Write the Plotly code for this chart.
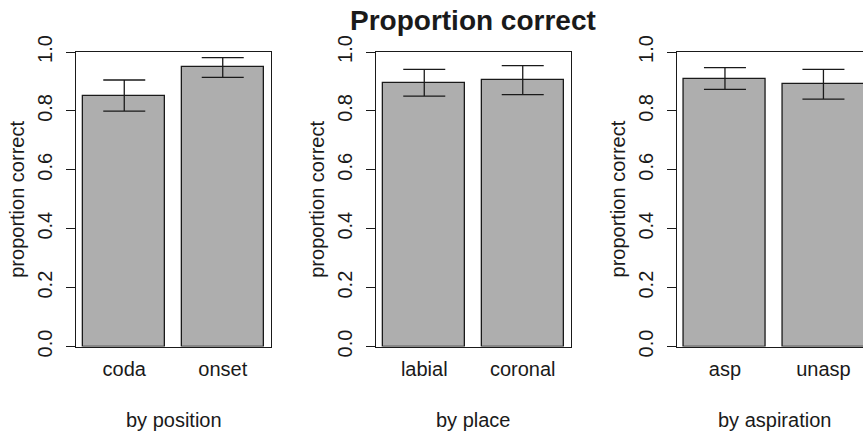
import plotly.graph_objects as go

# ---------------- data ----------------
cats_position = ["coda", "onset"]
mean_position = [0.851, 0.948]
upper_position = [0.905, 0.981]
lower_position = [0.799, 0.914]

cats_place = ["labial", "coronal"]
mean_place = [0.896, 0.905]
upper_place = [0.941, 0.954]
lower_place = [0.850, 0.855]

cats_asp = ["asp", "unasp"]
mean_asp = [0.909, 0.890]
upper_asp = [0.947, 0.941]
lower_asp = [0.873, 0.840]

panel_titles = ["by position", "by place", "by aspiration"]
y_ticks = [0.0, 0.2, 0.4, 0.6, 0.8, 1.0]
main_title = "Proportion correct"
y_label = "proportion correct"

# ---------------- layout geometry ----------------
W, H = 863, 436
FONT = "Liberation Sans, Arial, Helvetica, sans-serif"
INK = "#1a1a1a"
BAR_FILL = "#aeaeae"

bar_w, space = 1.0, 0.2
plot_top, plot_bot = 52, 346.5
panels_px = [(76, 271), (376, 571), (676.7, W)]
unit_px = 195 / 2.376
x0 = 0.112

def px(v):
    return v / W

def py(v):
    return (H - v) / H

fig = go.Figure()
groups = [
    (cats_position, mean_position, upper_position, lower_position),
    (cats_place, mean_place, upper_place, lower_place),
    (cats_asp, mean_asp, upper_asp, lower_asp),
]

for i, (cats, means, ups, lows) in enumerate(groups):
    n = i + 1
    xa = "x" if n == 1 else f"x{n}"
    ya = "y" if n == 1 else f"y{n}"
    mids = [space + bar_w / 2 + k * (bar_w + space) for k in range(len(cats))]
    fig.add_trace(go.Bar(
        x=mids, y=means, width=bar_w, xaxis=xa, yaxis=ya,
        marker=dict(color=BAR_FILL, line=dict(color=INK, width=1.3)),
        error_y=dict(type="data", symmetric=False,
                     array=[u - m for u, m in zip(ups, means)],
                     arrayminus=[m - l for m, l in zip(means, lows)],
                     color=INK, thickness=1.3, width=21),
        showlegend=False, hoverinfo="skip",
    ))
    l, r = panels_px[i]
    xr1 = x0 + (r - l) / unit_px
    xkey = "xaxis" if n == 1 else f"xaxis{n}"
    ykey = "yaxis" if n == 1 else f"yaxis{n}"
    fig.update_layout(**{
        xkey: dict(domain=[px(l), px(r)], range=[x0, xr1], anchor=ya,
                   tickvals=mids, ticktext=cats, ticks="", showgrid=False,
                   zeroline=False, showline=True, linecolor=INK, linewidth=1.3,
                   mirror=True, tickfont=dict(family=FONT, size=20, color=INK),
                   ticklabelstandoff=4, automargin=False),
        ykey: dict(domain=[py(plot_bot), py(plot_top)], range=[0, 1], anchor=xa,
                   tickvals=y_ticks, ticktext=[f"{t:.1f}" for t in y_ticks],
                   ticks="outside", ticklen=8.5, tickwidth=1.3, tickcolor=INK,
                   tickangle=-90, showgrid=False, zeroline=False, showline=True,
                   linecolor=INK, linewidth=1.3, mirror=(n != 3),
                   tickfont=dict(family=FONT, size=20, color=INK),
                   ticklabelstandoff=6, automargin=False),
    })
    # y-axis title
    fig.add_annotation(x=px(l - 58.5), y=py((plot_top + plot_bot) / 2),
                       xref="paper", yref="paper", text=y_label, textangle=-90,
                       showarrow=False, xanchor="center", yanchor="middle",
                       font=dict(family=FONT, size=20, color=INK))
    # panel subtitle
    cx = l + (195) / 2
    fig.add_annotation(x=px(cx), y=py(420), xref="paper", yref="paper",
                       text=panel_titles[i], showarrow=False,
                       xanchor="center", yanchor="middle",
                       font=dict(family=FONT, size=20, color=INK))

fig.add_annotation(x=px(473), y=py(21), xref="paper", yref="paper",
                   text=f"<b>{main_title}</b>", showarrow=False,
                   xanchor="center", yanchor="middle",
                   font=dict(family=FONT, size=28, color=INK))

fig.update_layout(width=W, height=H, margin=dict(l=0, r=0, t=0, b=0),
                  paper_bgcolor="white", plot_bgcolor="white", bargap=0)

fig.write_html("out.html")
